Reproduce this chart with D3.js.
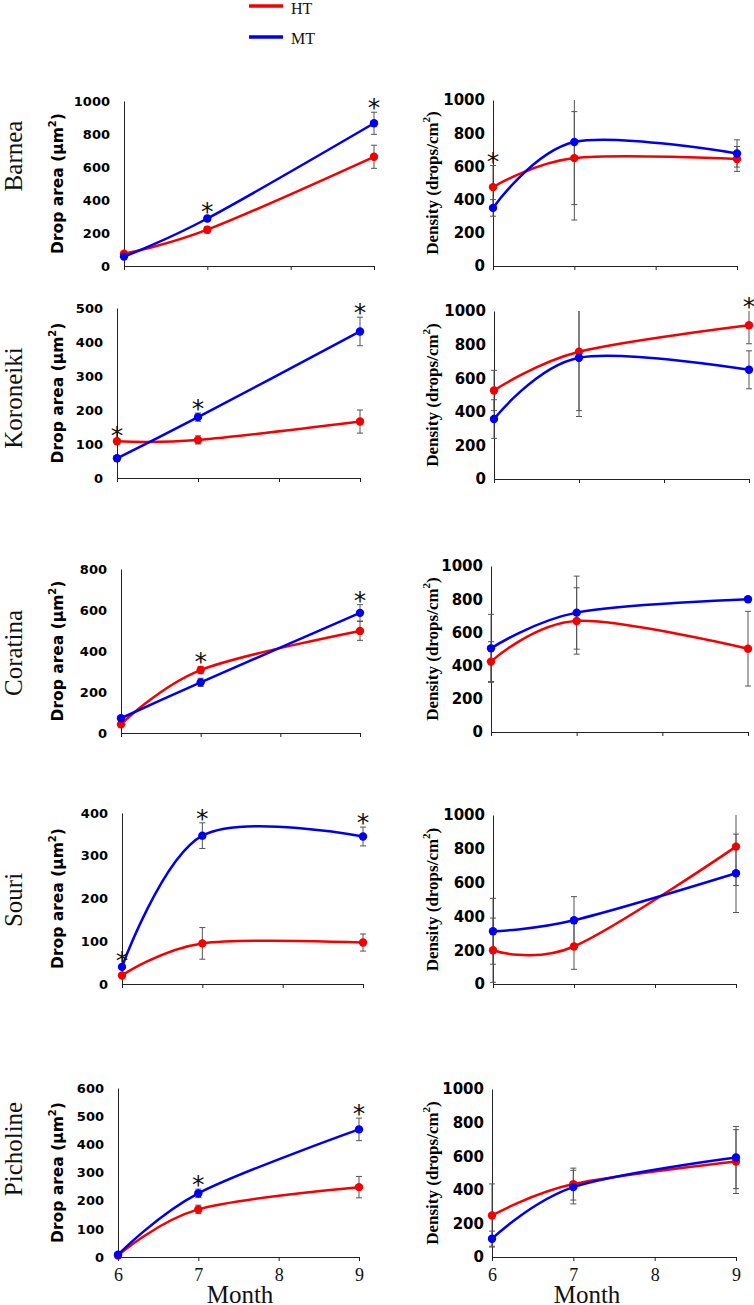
<!DOCTYPE html>
<html>
<head>
<meta charset="utf-8">
<script src="https://cdn.jsdelivr.net/npm/d3@7"></script>
<style>
  body { margin: 0; background: #fff; }
  .axis path, .axis line { stroke: #222; }
</style>
</head>
<body>
<script>
// ---- data ----
var months = [6, 7, 9];
var monthTicks = [6, 7, 8, 9];
var cultivars = ["Barnea", "Koroneiki", "Coratina", "Souri", "Picholine"];
var seriesNames = ["HT", "MT"];

// drop area (µm²)
var areaMax = [1000, 500, 800, 400, 600];
var areaStep = [200, 100, 200, 100, 100];
var areaHT = [[75, 220, 662], [108, 112, 166], [42, 307, 498], [20, 95, 97], [5, 169, 248]];
var areaHTerr = [[12, 20, 70], [5, 12, 34], [10, 18, 46], [5, 37, 20], [3, 15, 38]];
var areaMT = [[57, 288, 865], [58, 179, 431], [72, 247, 586], [40, 347, 345], [8, 226, 453]];
var areaMTerr = [[10, 15, 67], [8, 12, 42], [8, 20, 40], [5, 30, 22], [3, 15, 40]];
var areaStars = [[["MT", 1], ["MT", 2]], [["HT", 0], ["MT", 1], ["MT", 2]], [["HT", 1], ["MT", 2]],
                 [["MT", 0], ["MT", 1], ["MT", 2]], [["MT", 1], ["MT", 2]]];

// density (drops/cm²)
var densMax = [1000, 1000, 1000, 1000, 1000];
var densStep = [200, 200, 200, 200, 200];
var densHT = [[475, 650, 645], [527, 757, 915], [424, 669, 502], [200, 222, 813], [247, 434, 568]];
var densHTerr = [[130, 280, 75], [120, 350, 110], [120, 200, 225], [190, 135, 230], [188, 95, 190]];
var densMT = [[350, 747, 678], [357, 722, 650], [504, 719, 800], [312, 377, 655], [109, 416, 592]];
var densMTerr = [[50, 470, 82], [115, 350, 113], [205, 220, 10], [195, 140, 232], [45, 100, 185]];
var densStars = [[["HT", 0]], [["HT", 2]], [], [], []];

// ---- layout ----
var W = 754, H = 1305;
var rowTop = [[101, 100], [308, 311], [569, 566], [813, 815], [1088, 1089]];
var rowBottom = [[266, 266], [478, 479], [733, 732], [984, 984], [1257, 1257]];
var colX = [[[124, 374], [493, 737]], [[117, 360], [494, 749]], [[121, 360], [491, 748]],
            [[122, 363], [493, 736]], [[118, 359], [492, 736]]];
var labelY = [156, 398, 653, 900, 1149];

var color = d3.scaleOrdinal().domain(seriesNames).range(["#f50000", "#0000f0"]);

var svg = d3.select("body").append("svg")
	.attr("width", W)
	.attr("height", H);

// legend
var legend = svg.append("g").attr("class", "legend");
seriesNames.forEach(function(s, i) {
	legend.append("line")
		.attr("x1", 249).attr("x2", 283)
		.attr("y1", 6 + i * 31).attr("y2", 6 + i * 31)
		.attr("stroke", color(s))
		.attr("stroke-width", 3.5);
	legend.append("text")
		.attr("x", 291)
		.attr("y", 14 + i * 30)
		.attr("font-family", "Liberation Serif")
		.attr("font-size", "16px")
		.attr("fill", "#111")
		.text(s);
});

function drawPanel(i, c) {
	var isArea = c === 0;
	var maxV = isArea ? areaMax[i] : densMax[i];
	var step = isArea ? areaStep[i] : densStep[i];
	var vals = { HT: isArea ? areaHT[i] : densHT[i], MT: isArea ? areaMT[i] : densMT[i] };
	var errs = { HT: isArea ? areaHTerr[i] : densHTerr[i], MT: isArea ? areaMTerr[i] : densMTerr[i] };
	var stars = isArea ? areaStars[i] : densStars[i];

	var x = d3.scaleLinear().domain([6, 9]).range(colX[i][c]);
	var y = d3.scaleLinear().domain([0, maxV]).range([rowBottom[i][c], rowTop[i][c]]);

	var g = svg.append("g");

	// x axis
	var xAxis = g.append("g")
		.attr("class", "axis")
		.attr("transform", "translate(0," + y(0) + ")")
		.call(d3.axisBottom(x).tickValues(monthTicks).tickSize(4).tickSizeOuter(0)
			.tickFormat(i === cultivars.length - 1 ? d3.format("d") : ""));
	xAxis.selectAll("text")
		.attr("dy", 0)
		.attr("y", 24)
		.attr("font-family", "Liberation Serif")
		.attr("font-size", "18px")
		.attr("fill", "#111");
	xAxis.select(".domain").attr("stroke-width", 1);

	// y axis
	var yAxis = g.append("g")
		.attr("class", "axis")
		.attr("transform", "translate(" + x(6) + ",0)")
		.call(d3.axisLeft(y).tickValues(d3.range(0, maxV + 1, step)).tickSize(0)
			.tickFormat(d3.format("d"))
			.tickPadding(isArea ? 14 : 8));
	yAxis.selectAll("text")
		.attr("font-family", "DejaVu Sans")
		.attr("font-weight", "bold")
		.attr("font-size", isArea ? "13px" : "15px")
		.attr("fill", "#000");
	yAxis.select(".domain").attr("stroke-width", 1);

	// error bars
	seriesNames.forEach(function(s) {
		months.forEach(function(m, k) {
			var v = vals[s][k], e = errs[s][k];
			var hi = Math.min(v + e, maxV), lo = Math.max(v - e, 0);
			g.append("line")
				.attr("x1", x(m)).attr("x2", x(m))
				.attr("y1", y(hi)).attr("y2", y(lo))
				.attr("stroke", "#555").attr("stroke-width", 1);
			if (v + e <= maxV) {
				g.append("line").attr("x1", x(m) - 3).attr("x2", x(m) + 3)
					.attr("y1", y(hi)).attr("y2", y(hi))
					.attr("stroke", "#555").attr("stroke-width", 1);
			}
			if (v - e >= 0) {
				g.append("line").attr("x1", x(m) - 3).attr("x2", x(m) + 3)
					.attr("y1", y(lo)).attr("y2", y(lo))
					.attr("stroke", "#555").attr("stroke-width", 1);
			}
		});
	});

	// smoothed lines + markers
	var line = d3.line()
		.x(function(d) { return x(d[0]); })
		.y(function(d) { return y(d[1]); })
		.curve(d3.curveCardinal.tension(0));

	seriesNames.forEach(function(s) {
		var pts = months.map(function(m, k) { return [m, vals[s][k]]; });
		g.append("path")
			.datum(pts)
			.attr("fill", "none")
			.attr("stroke", color(s))
			.attr("stroke-width", 2.5)
			.attr("d", line);
		g.selectAll(null)
			.data(pts)
			.enter()
			.append("circle")
			.attr("cx", function(d) { return x(d[0]); })
			.attr("cy", function(d) { return y(d[1]); })
			.attr("r", 4.2)
			.attr("fill", color(s));
	});

	// significance marks
	stars.forEach(function(st) {
		var s = st[0], k = st[1];
		var top = Math.min(vals[s][k] + errs[s][k], maxV);
		g.append("text")
			.attr("x", x(months[k]))
			.attr("y", y(top) + 4)
			.attr("text-anchor", "middle")
			.attr("font-family", "DejaVu Sans")
			.attr("font-size", "25px")
			.attr("fill", "#111")
			.text("*");
	});

	// y axis title
	var yc = (rowTop[i][c] + rowBottom[i][c]) / 2;
	var title = g.append("text")
		.attr("transform", "translate(" + (isArea ? 58 : 432) + "," + yc + ") rotate(-90)")
		.attr("text-anchor", "middle")
		.attr("dominant-baseline", "central")
		.attr("font-weight", "bold")
		.attr("fill", "#000");
	if (isArea) {
		title.attr("font-family", "DejaVu Sans").attr("font-size", "15.5px");
		title.append("tspan").text("Drop area (µm");
		title.append("tspan").attr("font-size", "10px").attr("dy", -6).text("2");
		title.append("tspan").attr("dy", 6).text(")");
	} else {
		title.attr("font-family", "Liberation Serif").attr("font-size", "17px");
		title.append("tspan").text("Density (drops/cm");
		title.append("tspan").attr("font-size", "11px").attr("dy", -6).text("2");
		title.append("tspan").attr("dy", 6).text(")");
	}
}

cultivars.forEach(function(name, i) {
	svg.append("text")
		.attr("transform", "translate(13," + labelY[i] + ") rotate(-90)")
		.attr("text-anchor", "middle")
		.attr("dominant-baseline", "central")
		.attr("font-family", "Liberation Serif")
		.attr("font-size", "25px")
		.attr("fill", "#111")
		.text(name);
	drawPanel(i, 0);
	drawPanel(i, 1);
});

// x axis titles
[240, 587].forEach(function(cx) {
	svg.append("text")
		.attr("x", cx)
		.attr("y", 1303)
		.attr("text-anchor", "middle")
		.attr("font-family", "Liberation Serif")
		.attr("font-size", "25px")
		.attr("fill", "#111")
		.text("Month");
});
</script>
</body>
</html>
